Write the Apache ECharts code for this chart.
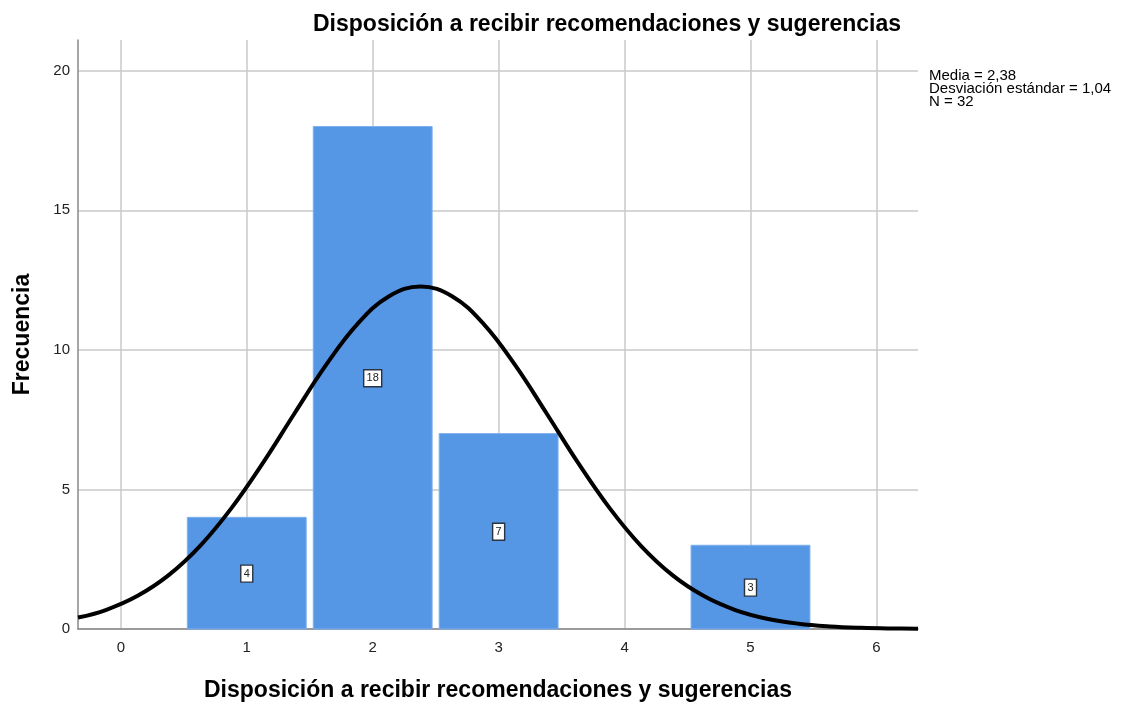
<!DOCTYPE html>
<html><head><meta charset="utf-8">
<script src="https://cdn.jsdelivr.net/npm/echarts@6/dist/echarts.min.js"></script>
<style>html,body{margin:0;padding:0;background:#fff}#c{width:1129px;height:707px}</style>
</head><body><div id="c"></div>
<script>
const binCenters = [1, 2, 3, 5];
const frequencies = [4, 18, 7, 3];
const curveX = [-0.34, -0.12, 0.13, 0.38, 0.63, 0.88, 1.13, 1.38, 1.63, 1.88, 2.13, 2.38, 2.63, 2.88, 3.13, 3.38, 3.63, 3.88, 4.13, 4.38, 4.63, 4.88, 5.13, 5.38, 5.63, 5.88, 6.13, 6.33];
const curveY = [0.41, 0.68, 1.18, 1.93, 2.98, 4.34, 5.96, 7.73, 9.46, 10.93, 11.92, 12.27, 11.92, 10.93, 9.46, 7.73, 5.96, 4.34, 2.98, 1.93, 1.18, 0.68, 0.37, 0.19, 0.093, 0.043, 0.018, 0.009];
const xTicks = [0, 1, 2, 3, 4, 5, 6];
const yTicks = [0, 5, 10, 15, 20];
const statsLines = ['Media = 2,38', 'Desviación estándar = 1,04', 'N = 32'];
const titleText = 'Disposición a recibir recomendaciones y sugerencias';
const xName = 'Disposición a recibir recomendaciones y sugerencias';
const yName = 'Frecuencia';

const FONT = '"Liberation Sans", Arial, sans-serif';
const chart = echarts.init(document.getElementById('c'), null, {renderer: 'canvas'});
const barData = binCenters.map((x, i) => [x, frequencies[i]]);
const curveData = curveX.map((x, i) => [x, curveY[i]]);

chart.setOption({
  animation: false,
  backgroundColor: '#fff',
  title: {
    text: titleText, left: 308, top: 8,
    textStyle: {fontFamily: FONT, fontSize: 23, fontWeight: 'bold', color: '#000'}
  },
  graphic: [{
    type: 'text', left: 929, top: 68,
    style: {text: statsLines.join('\n'), font: '15px ' + FONT, fill: '#000', lineHeight: 13.3}
  }],
  grid: {left: 78, right: 211, top: 40, bottom: 67, containLabel: false},
  xAxis: {
    type: 'value', min: -0.34, max: 6.33,
    name: xName, nameLocation: 'middle', nameGap: 50,
    nameTextStyle: {fontFamily: FONT, fontSize: 23, fontWeight: 'bold', color: '#000'},
    axisLine: {show: true, onZero: false, lineStyle: {color: '#888', width: 1.5}},
    axisTick: {show: false, customValues: xTicks},
    axisLabel: {customValues: xTicks, fontFamily: FONT, fontSize: 15, color: '#222', margin: 11},
    splitLine: {show: true, lineStyle: {color: '#c8c8c8', width: 1.5}}
  },
  yAxis: {
    type: 'value', min: 0, max: 21.1,
    name: yName, nameLocation: 'middle', nameGap: 44,
    nameTextStyle: {fontFamily: FONT, fontSize: 23, fontWeight: 'bold', color: '#000'},
    axisLine: {show: true, onZero: false, lineStyle: {color: '#888', width: 1.5}},
    axisTick: {show: false, customValues: yTicks},
    axisLabel: {customValues: yTicks, fontFamily: FONT, fontSize: 15, color: '#222', margin: 8},
    splitLine: {show: true, lineStyle: {color: '#c8c8c8', width: 1.5}}
  },
  series: [
    {
      type: 'custom', data: barData, z: 2,
      renderItem: function (params, api) {
        const x = api.value(0), y = api.value(1);
        const p1 = api.coord([x - 0.472, y]);
        const p2 = api.coord([x + 0.472, 0]);
        const mid = api.coord([x, y / 2]);
        const label = String(y);
        const w = label.length > 1 ? 18 : 12;
        return {
          type: 'group',
          children: [
            {type: 'rect', shape: {x: p1[0], y: p1[1], width: p2[0] - p1[0], height: p2[1] - p1[1]},
             style: {fill: '#5596e5', stroke: '#7fb0ee', lineWidth: 1}},
            {type: 'rect', shape: {x: mid[0] - w / 2, y: mid[1] - 8, width: w, height: 17},
             style: {fill: '#fff', stroke: '#2a3440', lineWidth: 1.4}},
            {type: 'text', x: mid[0], y: mid[1] + 0.5,
             style: {text: label, font: '11px ' + FONT, fill: '#222', align: 'center', verticalAlign: 'middle'}}
          ]
        };
      }
    },
    {
      type: 'line', data: curveData, smooth: 0.4, showSymbol: false, z: 5,
      lineStyle: {color: '#000', width: 4}
    }
  ]
});
</script></body></html>
